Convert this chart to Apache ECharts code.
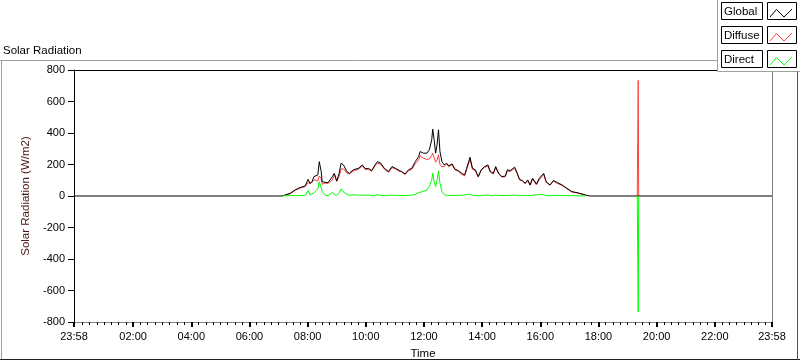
<!DOCTYPE html>
<html>
<head>
<meta charset="utf-8">
<script src="https://cdn.jsdelivr.net/npm/echarts@6/dist/echarts.min.js"></script>
<style>
html,body{margin:0;padding:0;background:#fff;overflow:hidden;}
#chart{width:800px;height:361px;}
</style>
</head>
<body>
<div id="chart"></div>
<script>
// ---- data (time in minutes since midnight; -2 = 23:58 of the previous day) ----
const times = [-2, 415, 427, 433, 444, 454, 464, 475, 481, 485, 489, 493, 501, 504, 508, 510, 516, 522, 526, 531, 535, 540, 545, 549, 554, 561, 566, 574, 585, 593,
  599, 605, 612, 619, 624, 631, 638, 647, 654, 661, 667, 674, 681, 688, 695, 702, 709, 712, 719, 726, 731, 736, 738, 741, 744, 747, 750, 753, 757, 762, 767, 771, 778,
  784, 791, 798, 804, 808, 815, 820, 826, 832, 838, 845, 852, 857, 863, 868, 874, 881, 888, 892, 898, 901, 907, 912, 917, 923, 929, 934, 939, 944, 946, 952, 958,
  967, 972, 980, 987, 994, 1005, 1015, 1025, 1036, 1046, 1053, 1063, 1160, 1161, 1162, 1163, 1438];
const globalVals = [0, 0, 0, 6, 17, 38, 53, 64, 106, 78, 91, 123, 134, 218, 155, 91, 87, 84, 87, 123, 144, 96, 144, 208, 197, 155, 144, 166, 176, 197,
  172, 176, 161, 197, 218, 208, 176, 155, 187, 176, 166, 155, 140, 166, 176, 218, 250, 282, 272, 272, 293, 357, 425, 357, 272, 325, 420, 282, 218, 197, 208, 191, 204,
  170, 161, 144, 134, 176, 246, 176, 166, 123, 166, 187, 197, 155, 144, 187, 144, 123, 127, 166, 161, 155, 183, 148, 106, 98, 81, 102, 70, 113, 123, 76, 113,
  144, 91, 70, 98, 87, 70, 49, 28, 21, 13, 6, 0, 0, 0, 0, 0, 0];
const diffuseVals = [null, null, 0, 4, 14, 36, 50, 60, 84, 72, 86, 104, 95, 127, 110, 75, 82, 80, 80, 100, 135, 92, 124, 172, 172, 145, 139, 158, 170, 190,
  168, 170, 158, 192, 208, 202, 172, 150, 180, 172, 160, 152, 136, 160, 170, 205, 228, 255, 240, 232, 235, 257, 272, 265, 215, 228, 262, 200, 185, 188, 203, 187, 198,
  166, 156, 138, 127, 167, 232, 170, 162, 120, 162, 182, 190, 151, 140, 180, 140, 120, 123, 160, 156, 151, 176, 143, 103, 95, 78, 98, 68, 108, 118, 70, 104,
  136, 88, 68, 95, 82, 66, 46, 26, 19, 12, 6, null, 0, 363, 734, 0, null];
const directVals = [null, null, 0, 2, 3, 2, 3, 4, 34, 8, 4, 20, 45, 91, 50, 28, 5, 3, 6, 23, 8, 4, 20, 45, 25, 10, 5, 8, 5, 6,
  4, 6, 3, 4, 8, 5, 3, 4, 6, 3, 4, 3, 3, 4, 5, 12, 21, 25, 30, 38, 60, 100, 146, 90, 60, 100, 160, 80, 30, 8, 4, 3, 4,
  3, 4, 5, 6, 8, 12, 5, 3, 2, 3, 5, 6, 3, 3, 6, 4, 3, 3, 5, 4, 3, 6, 4, 3, 3, 2, 4, 2, 4, 5, 8, 10,
  8, 3, 2, 3, 4, 3, 3, 2, 2, 1, 0, null, 0, -365, -737, 0, null];
const seriesNames = ['Global', 'Diffuse', 'Direct'];
const seriesColors = ['#000000', '#ff4040', '#00ff00'];
const majorTicks = [-2, 120, 240, 360, 480, 600, 720, 840, 960, 1080, 1200, 1320, 1438];
const yTitle = 'Solar Radiation (W/m2)';
const xTitle = 'Time';
const chartTitle = 'Solar Radiation';

function pairs(vals) { return times.map((t, i) => [t, vals[i]]); }
function fmt(v) {
  let m = Math.round(v); if (m < 0) m += 1440;
  const h = Math.floor(m / 60), mm = m % 60;
  return String(h).padStart(2, '0') + ':' + String(mm).padStart(2, '0');
}
const minorTicks = [];
for (let m = 15; m < 1438; m += 15) { if (majorTicks.indexOf(m) < 0) minorTicks.push(m); }

const FONT = 'Liberation Sans, Arial, sans-serif';
const chart = echarts.init(document.getElementById('chart'), null, {renderer: 'canvas'});

function legendRow(i, y) {
  const pts = [[770, y + 14.5], [776.5, y + 7], [784, y + 14.5], [792, y + 6.5]];
  return [
    {type: 'rect', shape: {x: 721.5, y: y, width: 41, height: 17}, style: {fill: '#fff', stroke: '#000', lineWidth: 1}, z: 101},
    {type: 'text', x: 724, y: y + 9, style: {text: seriesNames[i], font: '11.5px ' + FONT, fill: '#000', verticalAlign: 'middle'}, z: 102},
    {type: 'rect', shape: {x: 767.5, y: y, width: 29, height: 17}, style: {fill: '#fff', stroke: '#000', lineWidth: 1}, z: 101},
    {type: 'polyline', shape: {points: pts}, style: {stroke: seriesColors[i], lineWidth: 1, fill: null}, z: 102}
  ];
}

const option = {
  backgroundColor: '#fff',
  animation: false,
  title: {text: chartTitle, left: 3, top: 45, padding: 0, textStyle: {fontFamily: FONT, fontSize: 11.5, fontWeight: 'normal', color: '#000'}},
  grid: {left: 74, right: 28, top: 70, bottom: 39, containLabel: false, outerBoundsMode: 'none'},
  xAxis: [
    {type: 'value', min: -2, max: 1438, position: 'bottom',
      name: xTitle, nameLocation: 'middle', nameGap: 26,
      nameTextStyle: {fontFamily: FONT, fontSize: 11.5, color: '#000'},
      axisLine: {show: true, onZero: false, lineStyle: {color: '#808080', width: 1}},
      axisTick: {show: true, inside: false, length: 5, customValues: majorTicks, lineStyle: {color: '#000', width: 2}},
      axisLabel: {show: true, margin: 9, customValues: majorTicks, formatter: fmt, fontFamily: FONT, fontSize: 11, color: '#000'},
      splitLine: {show: false}},
    {type: 'value', min: -2, max: 1438, position: 'bottom',
      axisLine: {show: false, onZero: false},
      axisTick: {show: true, inside: false, length: 3, customValues: minorTicks, lineStyle: {color: '#000', width: 1}},
      axisLabel: {show: false}, splitLine: {show: false}},
    {type: 'value', min: -2, max: 1438, position: 'top',
      axisLine: {show: true, onZero: false, lineStyle: {color: '#000', width: 1}},
      axisTick: {show: false}, axisLabel: {show: false}, splitLine: {show: false}}
  ],
  yAxis: [
    {type: 'value', min: -800, max: 800, interval: 200, position: 'left',
      name: yTitle, nameLocation: 'middle', nameGap: 32, nameRotate: 90,
      nameTextStyle: {fontFamily: FONT, fontSize: 11.5, color: '#4a1515'},
      axisLine: {show: true, onZero: false, lineStyle: {color: '#000', width: 1}},
      axisTick: {show: true, inside: false, length: 6, lineStyle: {color: '#000', width: 1}},
      axisLabel: {show: true, margin: 9, fontFamily: FONT, fontSize: 11, color: '#000'},
      splitLine: {show: false}},
    {type: 'value', min: -800, max: 800, interval: 200, position: 'right',
      axisLine: {show: true, onZero: false, lineStyle: {color: '#808080', width: 1}},
      axisTick: {show: false}, axisLabel: {show: false}, splitLine: {show: false}}
  ],
  series: [
    {name: 'Diffuse', type: 'line', xAxisIndex: 0, yAxisIndex: 0, data: pairs(diffuseVals), showSymbol: false, connectNulls: false,
      lineStyle: {color: seriesColors[1], width: 1}, z: 2},
    {name: 'Global', type: 'line', xAxisIndex: 0, yAxisIndex: 0, data: pairs(globalVals), showSymbol: false, connectNulls: false,
      lineStyle: {color: seriesColors[0], width: 1}, z: 3},
    {name: 'Direct', type: 'line', xAxisIndex: 0, yAxisIndex: 0, data: pairs(directVals), showSymbol: false, connectNulls: false,
      lineStyle: {color: seriesColors[2], width: 1}, z: 4}
  ],
  graphic: [
    {type: 'line', shape: {x1: 0, y1: 60.5, x2: 717, y2: 60.5}, style: {stroke: '#a0a0a0', lineWidth: 1}, z: 50},
    {type: 'line', shape: {x1: 1.5, y1: 60.5, x2: 1.5, y2: 360}, style: {stroke: '#a0a0a0', lineWidth: 1}, z: 50},
    {type: 'line', shape: {x1: 0, y1: 359.5, x2: 800, y2: 359.5}, style: {stroke: '#202020', lineWidth: 1}, z: 50},
    {type: 'line', shape: {x1: 797.5, y1: 72, x2: 797.5, y2: 360}, style: {stroke: '#505050', lineWidth: 1}, z: 50},
    {type: 'rect', shape: {x: 717.5, y: -1, width: 84, height: 72.5}, style: {fill: '#fff', stroke: '#a0a0a0', lineWidth: 1}, z: 100}
  ].concat(legendRow(0, 2.5), legendRow(1, 26.5), legendRow(2, 50.5))
};
chart.setOption(option);
</script>
</body>
</html>
